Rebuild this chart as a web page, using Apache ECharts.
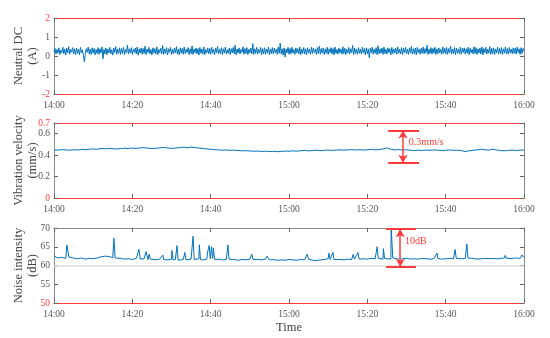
<!DOCTYPE html>
<html>
<head>
<meta charset="utf-8">
<script src="https://cdn.jsdelivr.net/npm/echarts@6/dist/echarts.min.js"></script>
<style>html,body{margin:0;padding:0;background:#fff}#c{width:550px;height:338px}</style>
</head>
<body>
<div id="c"></div>
<script>
// ---- data ----
const xTickLabels = ['14:00','14:20','14:40','15:00','15:20','15:40','16:00'];
const xTickStep = 20; // minutes between ticks

// Neutral DC (A), sampled every 0.25 min from 14:00
const dcStep = 0.25;
const dcValues = [
0.21,0.40,0.10,0.35,0.15,0.43,0.08,0.31,0.18,0.46,
0.12,0.37,0.05,0.41,0.17,0.49,0.09,0.34,0.20,0.44,
0.11,0.38,0.06,0.42,0.14,0.36,0.07,0.45,0.16,0.33,
0.04,-0.30,0.12,0.39,0.19,0.47,0.10,0.36,0.08,0.43,
0.15,0.40,0.06,0.34,0.13,0.44,0.09,0.38,0.17,0.48,
-0.15,0.35,0.11,0.42,0.07,0.37,0.16,0.45,0.12,0.33,
0.05,0.41,0.18,0.50,0.09,0.36,0.14,0.43,0.08,0.39,
0.13,0.46,0.06,0.34,0.17,0.58,0.10,0.38,0.15,0.44,
0.07,0.35,0.19,0.42,0.11,0.47,0.04,0.37,0.16,0.43,
0.09,0.40,0.13,0.52,0.08,0.36,0.18,0.45,0.12,0.34,
0.06,0.43,0.15,0.39,0.10,0.48,0.07,0.35,0.17,0.41,
0.11,0.55,0.09,0.37,0.14,0.44,0.05,0.38,0.19,0.46,
0.08,0.34,0.12,0.42,0.16,0.49,0.10,0.36,0.06,0.43,
0.15,0.40,0.09,0.47,0.13,0.35,0.18,0.44,0.07,0.38,
0.12,0.53,0.08,0.36,0.17,0.42,0.11,0.39,0.05,0.45,
0.14,0.37,0.10,0.48,0.07,0.34,0.16,0.43,0.12,0.40,
0.09,0.46,0.15,0.36,0.06,0.41,0.18,0.50,0.11,0.35,
0.13,0.44,0.07,0.38,0.16,0.47,0.10,0.33,0.14,0.42,
0.08,0.39,0.17,0.45,0.12,0.57,0.06,0.37,0.15,0.43,
0.10,0.35,0.19,0.48,0.09,0.40,0.13,0.44,0.07,0.36,
0.16,0.42,0.11,0.65,0.08,0.38,0.14,0.46,0.10,0.34,
0.17,0.45,0.06,0.39,0.12,0.43,0.09,0.37,0.15,0.48,
0.07,0.36,0.13,0.44,0.10,0.41,0.18,0.35,0.08,0.47,
0.14,0.68,0.11,0.38,0.05,0.43,-0.06,0.37,0.16,0.45,
0.09,0.40,0.12,0.46,0.15,0.34,0.08,0.42,0.17,0.39,
0.11,0.48,0.07,0.36,0.14,0.44,0.10,0.38,0.06,0.43,
0.16,0.35,0.09,0.47,0.13,0.41,0.18,0.37,0.08,0.45,
0.12,0.52,0.10,0.39,0.15,0.43,0.07,0.36,0.14,0.46,
0.08,0.38,0.17,0.44,0.11,0.40,0.06,0.47,0.13,0.35,
0.10,0.43,0.16,0.37,0.09,0.49,0.12,0.41,0.07,0.36,
0.15,0.45,0.11,0.38,0.18,0.56,0.08,0.42,0.13,0.37,
0.09,0.44,0.14,0.35,0.10,0.47,0.16,0.39,0.06,0.43,
0.12,0.37,-0.10,0.41,0.17,0.46,0.09,0.36,0.14,0.44,
0.07,0.54,0.11,0.38,0.15,0.42,0.08,0.47,0.13,0.35,
0.10,0.43,0.18,0.39,0.06,0.45,0.12,0.37,0.16,0.41,
0.09,0.48,0.14,0.36,0.11,0.44,0.07,0.40,0.17,0.46,
0.13,0.35,0.08,0.43,0.15,0.50,0.10,0.38,0.12,0.42,
0.06,0.45,0.16,0.37,0.09,0.41,0.14,0.47,0.11,0.39,
0.17,0.57,0.08,0.36,0.13,0.44,0.10,0.40,0.15,0.46,
0.07,0.38,0.12,0.43,0.16,0.35,0.09,0.48,0.14,0.41,
0.11,0.45,0.08,0.39,0.17,0.53,0.10,0.37,0.13,0.44,
0.06,0.42,0.15,0.36,0.12,0.47,0.09,0.40,0.18,0.43,
0.10,0.38,0.14,0.46,0.07,0.41,0.16,0.35,0.11,0.49,
0.13,0.44,0.08,0.37,0.15,0.42,0.10,0.48,0.06,0.39,
0.17,0.45,0.11,0.36,0.14,0.50,0.09,0.41,0.12,0.43,
0.08,0.37,0.16,0.46,0.10,0.40,0.13,0.44,0.07,0.38,
0.15,0.48,0.12,0.39,0.09,0.45,0.16,0.36,0.11,0.43,
0.14,0.41,0.10,0.47,0.18,0.38,0.08,0.44,0.13,0.40,
0.27
];

// Vibration velocity (mm/s), sampled every 1 min
const vibStep = 1;
const vibValues = [
0.450,0.447,0.452,0.449,0.446,0.451,0.448,0.453,0.450,0.455,
0.458,0.455,0.462,0.459,0.463,0.460,0.457,0.461,0.465,0.462,
0.466,0.463,0.468,0.470,0.465,0.461,0.464,0.468,0.472,0.467,
0.463,0.466,0.470,0.474,0.469,0.476,0.471,0.466,0.462,0.458,
0.455,0.452,0.449,0.446,0.448,0.444,0.447,0.443,0.440,0.442,
0.439,0.436,0.438,0.434,0.437,0.433,0.436,0.432,0.435,0.438,
0.436,0.440,0.437,0.441,0.444,0.440,0.443,0.446,0.442,0.445,
0.448,0.444,0.447,0.450,0.446,0.449,0.452,0.448,0.451,0.447,
0.450,0.454,0.449,0.452,0.458,0.468,0.455,0.449,0.452,0.447,
0.450,0.446,0.443,0.447,0.444,0.448,0.445,0.449,0.446,0.442,
0.445,0.448,0.444,0.447,0.443,0.432,0.441,0.446,0.449,0.455,
0.450,0.446,0.455,0.448,0.443,0.440,0.444,0.447,0.443,0.446,
0.448
];

// Noise intensity (dB): [minute after 14:00, dB]
const noisePoints = [
[0,62.6],[1,62.0],[2,62.2],[3,61.9],[3.3,65.5],[3.8,62.3],[4,62.4],[5,62.0],[6,61.8],[7,62.0],
[8,61.7],[9,61.9],[10,61.8],[11,62.0],[12,62.3],[13,62.5],[14,62.4],[15,62.1],[15.3,67.3],[15.6,62.0],
[16,61.8],[17,61.9],[18,61.7],[19,61.8],[20,61.6],[21,61.9],[21.7,64.3],[22,61.7],[23,61.8],[23.5,63.7],
[24,61.6],[24.3,63.0],[24.6,61.7],[25,61.8],[26,61.5],[27,61.7],[27.8,62.8],[28,61.6],[29,61.5],[30,61.7],
[30.1,64.0],[30.4,61.5],[31,61.6],[31.4,65.3],[31.7,61.4],[32,61.5],[33,61.6],[33.4,63.5],[33.7,61.5],[34,61.4],
[35,61.7],[35.5,67.8],[35.8,61.6],[36,61.5],[37,61.8],[37.1,65.5],[37.4,61.6],[38,61.5],[39,61.7],[39.3,64.0],
[39.6,65.3],[39.9,61.8],[40.2,65.0],[40.5,61.9],[40.7,64.7],[41,61.6],[42,61.7],[43,61.5],[44,61.6],[44.4,65.5],
[44.7,61.7],[45,61.5],[46,61.6],[47,61.4],[48,61.6],[49,61.5],[50,61.7],[50.5,63.0],[50.8,61.6],[51,61.5],
[52,61.6],[53,61.5],[54,61.7],[54.4,62.5],[55,61.5],[56,61.6],[57,61.4],[58,61.5],[59,61.4],[60,61.6],
[61,61.5],[62,61.4],[63,61.6],[64,61.5],[64.6,63.0],[65,61.7],[66,61.4],[67,61.3],[68,61.5],[69,61.6],
[70,61.8],[70.2,63.3],[70.5,61.6],[71,61.7],[71.2,63.5],[71.5,61.6],[72,61.5],[73,61.6],[74,61.5],[75,61.7],
[76,61.6],[76.4,63.0],[76.7,61.7],[77,61.6],[77.6,63.5],[77.9,61.7],[78,61.6],[79,61.8],[80,61.7],[81,61.9],
[82,61.8],[82.5,65.0],[82.8,61.9],[83,61.8],[84,61.7],[84.1,64.5],[84.4,61.9],[85,61.8],[86,61.7],[86.1,69.7],
[86.5,62.0],[87,61.8],[88,61.7],[89,61.8],[90,61.9],[91,61.7],[92,61.8],[93,61.7],[94,61.9],[95,61.8],
[96,61.7],[97,61.8],[97.8,63.3],[98,61.9],[99,61.7],[100,61.8],[101,61.9],[102,61.8],[102.4,64.3],[102.7,61.9],
[103,61.7],[104,61.8],[105,61.9],[105.4,65.7],[105.7,62.0],[106,61.8],[107,61.9],[108,61.7],[109,61.8],[110,61.9],
[111,61.8],[112,61.9],[113,61.8],[114,61.9],[115,62.0],[115.2,62.7],[115.5,61.9],[116,61.8],[117,61.9],[118,62.0],
[119,61.9],[119.5,62.8],[120,62.1]
];

// annotations: [xStart, xEnd, xArrow, yLow, yHigh, label, labelX, labelY]
const vibNote = [85.3, 93.2, 89.1, 0.33, 0.63, '0.3mm/s', 90.6, 0.523];
const noiseNote = [84.8, 92.4, 88.4, 59.7, 69.7, '10dB', 89.6, 66.5];
const noiseRef = 60;

// ---- chart ----
const RED = '#ff3b3b', GREY = '#8a8a8a', TXT = '#555', BLUE = '#0072BD';
const FONT = 'Liberation Serif';
const grids = [
  {left:54, right:26, top:18, height:76},
  {left:54, right:26, top:123, height:75},
  {left:54, right:26, top:228, height:75}
];
const yCfg = [
  {name:'Neutral DC\n(A)', min:-2, max:2, interval:1, redVals:[-2,2], topRed:true},
  {name:'Vibration velocity\n(mm/s)', min:0, max:0.7, interval:0.2, redVals:[0,0.7], topRed:true},
  {name:'Noise intensity\n(dB)', min:50, max:70, interval:5, redVals:[50], topRed:false}
];
const xAxis = [], yAxis = [];
yCfg.forEach((c, i) => {
  xAxis.push({
    type:'value', gridIndex:i, min:0, max:120, interval:xTickStep, position:'bottom',
    axisLine:{onZero:false, lineStyle:{color:RED, width:1.2}},
    axisTick:{inside:true, length:4, lineStyle:{color:'#666'}},
    axisLabel:{color:TXT, fontFamily:FONT, fontSize:9.5, margin:6,
      formatter:v => xTickLabels[Math.round(v / xTickStep)]},
    splitLine:{show:false},
    name: i === 2 ? 'Time' : '', nameLocation:'middle', nameGap:18, nameMoveOverlap:false,
    nameTextStyle:{color:'#444', fontFamily:FONT, fontSize:12.5}
  });
  xAxis.push({
    type:'value', gridIndex:i, min:0, max:120, interval:xTickStep, position:'top',
    axisLine:{onZero:false, lineStyle:{color:c.topRed ? RED : GREY, width:c.topRed ? 1.2 : 1}},
    axisTick:{inside:true, length:4, lineStyle:{color:'#666'}},
    axisLabel:{show:false}, splitLine:{show:false}
  });
  yAxis.push({
    type:'value', gridIndex:i, min:c.min, max:c.max, interval:c.interval, position:'left',
    axisLine:{show:true, onZero:false, lineStyle:{color:GREY}},
    axisTick:{show:true, inside:true, length:4, lineStyle:{color:'#666'}},
    axisLabel:{color:TXT, fontFamily:FONT, fontSize:9.5, margin:4,
      formatter:v => c.redVals.some(r => Math.abs(r - v) < 1e-9) ? '{r|' + v + '}' : String(v),
      rich:{r:{color:RED, fontFamily:FONT, fontSize:9.5}}},
    splitLine:{show:false},
    name:c.name, nameLocation:'middle', nameGap:14, nameRotate:90, nameMoveOverlap:false,
    nameTextStyle:{color:'#444', fontFamily:FONT, fontSize:12.5, lineHeight:14}
  });
  yAxis.push({
    type:'value', gridIndex:i, min:c.min, max:c.max, interval:c.interval, position:'right',
    axisLine:{show:true, onZero:false, lineStyle:{color:GREY}},
    axisTick:{show:true, inside:true, length:4, lineStyle:{color:'#666'}},
    axisLabel:{show:false}, splitLine:{show:false}
  });
});

function noteMarks(n, fontSize) {
  return {
    markLine: {
      silent:true, animation:false, label:{show:false},
      data: [
        [{coord:[n[0], n[3]], symbol:'none'}, {coord:[n[1], n[3]], symbol:'none', lineStyle:{color:RED, width:2, type:'solid'}}],
        [{coord:[n[0], n[4]], symbol:'none'}, {coord:[n[1], n[4]], symbol:'none', lineStyle:{color:RED, width:2, type:'solid'}}],
        [{coord:[n[2], n[3]], symbol:'arrow', symbolSize:[7,8]}, {coord:[n[2], n[4]], symbol:'arrow', symbolSize:[7,8], lineStyle:{color:RED, width:1.5, type:'solid'}}]
      ],
      lineStyle:{color:RED, type:'solid'}
    },
    markPoint: {
      silent:true, animation:false,
      data: [{coord:[n[6], n[7]], symbol:'circle', symbolSize:0,
        label:{show:true, position:'right', distance:0, formatter:n[5], color:RED, fontFamily:FONT, fontSize:fontSize}}]
    }
  };
}

const series = [
  {type:'line', xAxisIndex:0, yAxisIndex:0, showSymbol:false, animation:false,
   lineStyle:{color:BLUE, width:1}, data:dcValues.map((v, k) => [k * dcStep, v])},
  Object.assign({type:'line', xAxisIndex:2, yAxisIndex:2, showSymbol:false, animation:false,
   lineStyle:{color:BLUE, width:1}, data:vibValues.map((v, k) => [k * vibStep, v])}, noteMarks(vibNote, 10)),
  {type:'line', xAxisIndex:4, yAxisIndex:4, showSymbol:false, animation:false, z:1,
   lineStyle:{color:'#dcdcdc', width:1.5}, data:[],
   markLine:{silent:true, animation:false, symbol:'none', label:{show:false},
     lineStyle:{color:'#dcdcdc', width:1.5, type:'solid'}, data:[{yAxis:noiseRef}]}},
  Object.assign({type:'line', xAxisIndex:4, yAxisIndex:4, showSymbol:false, animation:false, z:3,
   lineStyle:{color:BLUE, width:1}, data:noisePoints}, noteMarks(noiseNote, 10))
];

const chart = echarts.init(document.getElementById('c'), null, {renderer:'canvas'});
chart.setOption({animation:false, backgroundColor:'#fff', grid:grids, xAxis, yAxis, series});
</script>
</body>
</html>
